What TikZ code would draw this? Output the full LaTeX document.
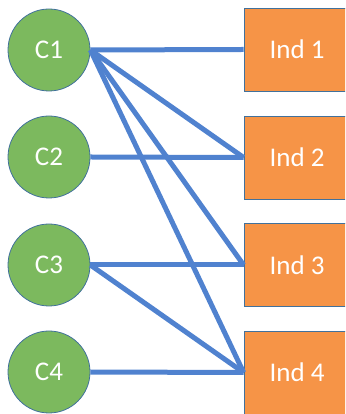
\documentclass[tikz,border=0pt]{standalone}
\usepackage{fontspec}
\setmainfont{Carlito}
\definecolor{cgreen}{HTML}{7CB95E}
\definecolor{corange}{HTML}{F69447}
\definecolor{cblue}{HTML}{5082CF}
\definecolor{cborder}{HTML}{41719C}
\begin{document}
\begin{tikzpicture}[x=1pt,y=1pt,
  cnode/.style={circle,draw=cborder,line width=0.8pt,fill=cgreen,minimum size=82pt,inner sep=0pt,text=white,font=\fontsize{27}{30}\selectfont},
  inode/.style={rectangle,draw=cborder,line width=0.8pt,fill=corange,minimum width=106pt,minimum height=83pt,inner sep=0pt,text=white,font=\fontsize{27}{30}\selectfont},
  link/.style={draw=cblue,line width=5pt}]
\useasboundingbox (0,0) rectangle (345,414);
\clip (0,0) rectangle (345,414);
\node[cnode] (c1) at (49,364) {C1};
\node[cnode] (c2) at (49,257) {C2};
\node[cnode] (c3) at (49,149) {C3};
\node[cnode] (c4) at (49,42) {C4};
\node[inode] (i1) at (297,364.5) {Ind 1};
\node[inode] (i2) at (297,256.5) {Ind 2};
\node[inode] (i3) at (297,149) {Ind 3};
\node[inode] (i4) at (297,41.5) {Ind 4};
\draw[link] (c1.east) -- (i1.west);
\draw[link] (c1.east) -- (i2.west);
\draw[link] (c1.east) -- (i3.west);
\draw[link] (c1.east) -- (i4.west);
\draw[link] (c2.east) -- (i2.west);
\draw[link] (c3.east) -- (i3.west);
\draw[link] (c3.east) -- (i4.west);
\draw[link] (c4.east) -- (i4.west);
\end{tikzpicture}
\end{document}
